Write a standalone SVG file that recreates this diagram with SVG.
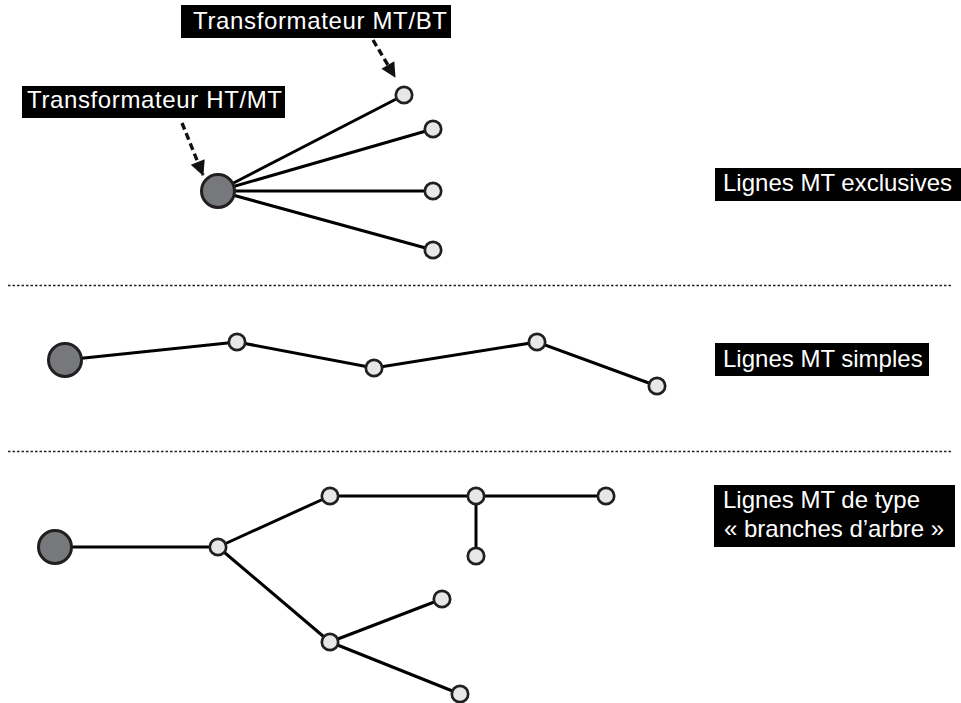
<svg xmlns="http://www.w3.org/2000/svg" width="961" height="703" viewBox="0 0 961 703">
  <style>
    .edge { stroke: #000; stroke-width: 3; fill: none; }
    .sep { stroke: #222; stroke-width: 1.4; stroke-dasharray: 2.5 2; fill: none; }
    .pointer { stroke: #111; stroke-width: 3.4; stroke-dasharray: 7 4; fill: none; }
    .src { fill: #77787b; stroke: #231f20; stroke-width: 3; }
    .sub { fill: #e6e7e8; stroke: #231f20; stroke-width: 2.7; }
    .tagbox { fill: #000; }
    .tag { fill: #fff; font-family: "Liberation Sans", Arial, sans-serif; font-size: 24px; }
  </style>
  <defs>
    <marker id="head" markerUnits="userSpaceOnUse" markerWidth="18" markerHeight="18" viewBox="0 0 18 18" refX="15" refY="9" orient="auto">
      <path d="M1,1.5 L16,9 L1,16.5 Z" fill="#111"/>
    </marker>
  </defs>

  <rect width="961" height="703" fill="#fff"/>

  <!-- section separators -->
  <g id="separators">
    <line class="sep" x1="8" y1="285.5" x2="952" y2="285.5"/>
    <line class="sep" x1="8" y1="451.5" x2="952" y2="451.5"/>
  </g>

  <!-- connectors -->
  <g id="connectors">
    <!-- exclusive lines -->
    <line class="edge" x1="218" y1="191" x2="404" y2="95"/>
    <line class="edge" x1="218" y1="191" x2="433" y2="129"/>
    <line class="edge" x1="218" y1="191" x2="433" y2="191"/>
    <line class="edge" x1="218" y1="191" x2="433" y2="250"/>
    <!-- simple line -->
    <polyline class="edge" points="65,360 237,342 374,368 537,342 657,386"/>
    <!-- tree line -->
    <line class="edge" x1="55" y1="547" x2="218" y2="547"/>
    <line class="edge" x1="218" y1="547" x2="330" y2="496"/>
    <line class="edge" x1="330" y1="496" x2="606" y2="496"/>
    <line class="edge" x1="476" y1="496" x2="476" y2="556"/>
    <line class="edge" x1="218" y1="547" x2="330" y2="642"/>
    <line class="edge" x1="330" y1="642" x2="442" y2="599"/>
    <line class="edge" x1="330" y1="642" x2="460" y2="694"/>
    <!-- label pointers -->
    <line class="pointer" x1="182" y1="123" x2="203" y2="175" marker-end="url(#head)"/>
    <line class="pointer" x1="373" y1="40" x2="395" y2="77" marker-end="url(#head)"/>
  </g>

  <!-- exclusive lines section -->
  <g id="ex-source"><circle class="src" cx="218" cy="191" r="16.5"/></g>
  <g id="ex-sub1"><circle class="sub" cx="404" cy="95" r="8.2"/></g>
  <g id="ex-sub2"><circle class="sub" cx="433" cy="129" r="8.2"/></g>
  <g id="ex-sub3"><circle class="sub" cx="433" cy="191" r="8.2"/></g>
  <g id="ex-sub4"><circle class="sub" cx="433" cy="250" r="8.2"/></g>

  <!-- simple lines section -->
  <g id="si-source"><circle class="src" cx="65" cy="360" r="16.5"/></g>
  <g id="si-sub1"><circle class="sub" cx="237" cy="342" r="8.2"/></g>
  <g id="si-sub2"><circle class="sub" cx="374" cy="368" r="8.2"/></g>
  <g id="si-sub3"><circle class="sub" cx="537" cy="342" r="8.2"/></g>
  <g id="si-sub4"><circle class="sub" cx="657" cy="386" r="8.2"/></g>

  <!-- tree lines section -->
  <g id="tr-source"><circle class="src" cx="55" cy="547" r="16.5"/></g>
  <g id="tr-n1"><circle class="sub" cx="218" cy="547" r="8.2"/></g>
  <g id="tr-n2"><circle class="sub" cx="330" cy="496" r="8.2"/></g>
  <g id="tr-n3"><circle class="sub" cx="476" cy="496" r="8.2"/></g>
  <g id="tr-n4"><circle class="sub" cx="606" cy="496" r="8.2"/></g>
  <g id="tr-n5"><circle class="sub" cx="476" cy="556" r="8.2"/></g>
  <g id="tr-n6"><circle class="sub" cx="442" cy="599" r="8.2"/></g>
  <g id="tr-n7"><circle class="sub" cx="330" cy="642" r="8.2"/></g>
  <g id="tr-n8"><circle class="sub" cx="460" cy="694" r="8.2"/></g>

  <!-- labels -->
  <g id="label-mtbt">
    <rect class="tagbox" x="181" y="5" width="270" height="33"/>
    <text class="tag" x="193" y="29" textLength="254" lengthAdjust="spacing">Transformateur MT/BT</text>
  </g>
  <g id="label-htmt">
    <rect class="tagbox" x="22" y="86" width="263" height="32"/>
    <text class="tag" x="27" y="108" textLength="255" lengthAdjust="spacing">Transformateur HT/MT</text>
  </g>
  <g id="label-exclusives">
    <rect class="tagbox" x="715" y="168" width="246" height="33"/>
    <text class="tag" x="723" y="191">Lignes MT exclusives</text>
  </g>
  <g id="label-simples">
    <rect class="tagbox" x="715" y="343" width="214" height="33"/>
    <text class="tag" x="723" y="367">Lignes MT simples</text>
  </g>
  <g id="label-arbre">
    <rect class="tagbox" x="714" y="485" width="241" height="62"/>
    <text class="tag" x="723" y="508">Lignes MT de type</text>
    <text class="tag" x="724" y="537">« branches d’arbre »</text>
  </g>
</svg>
